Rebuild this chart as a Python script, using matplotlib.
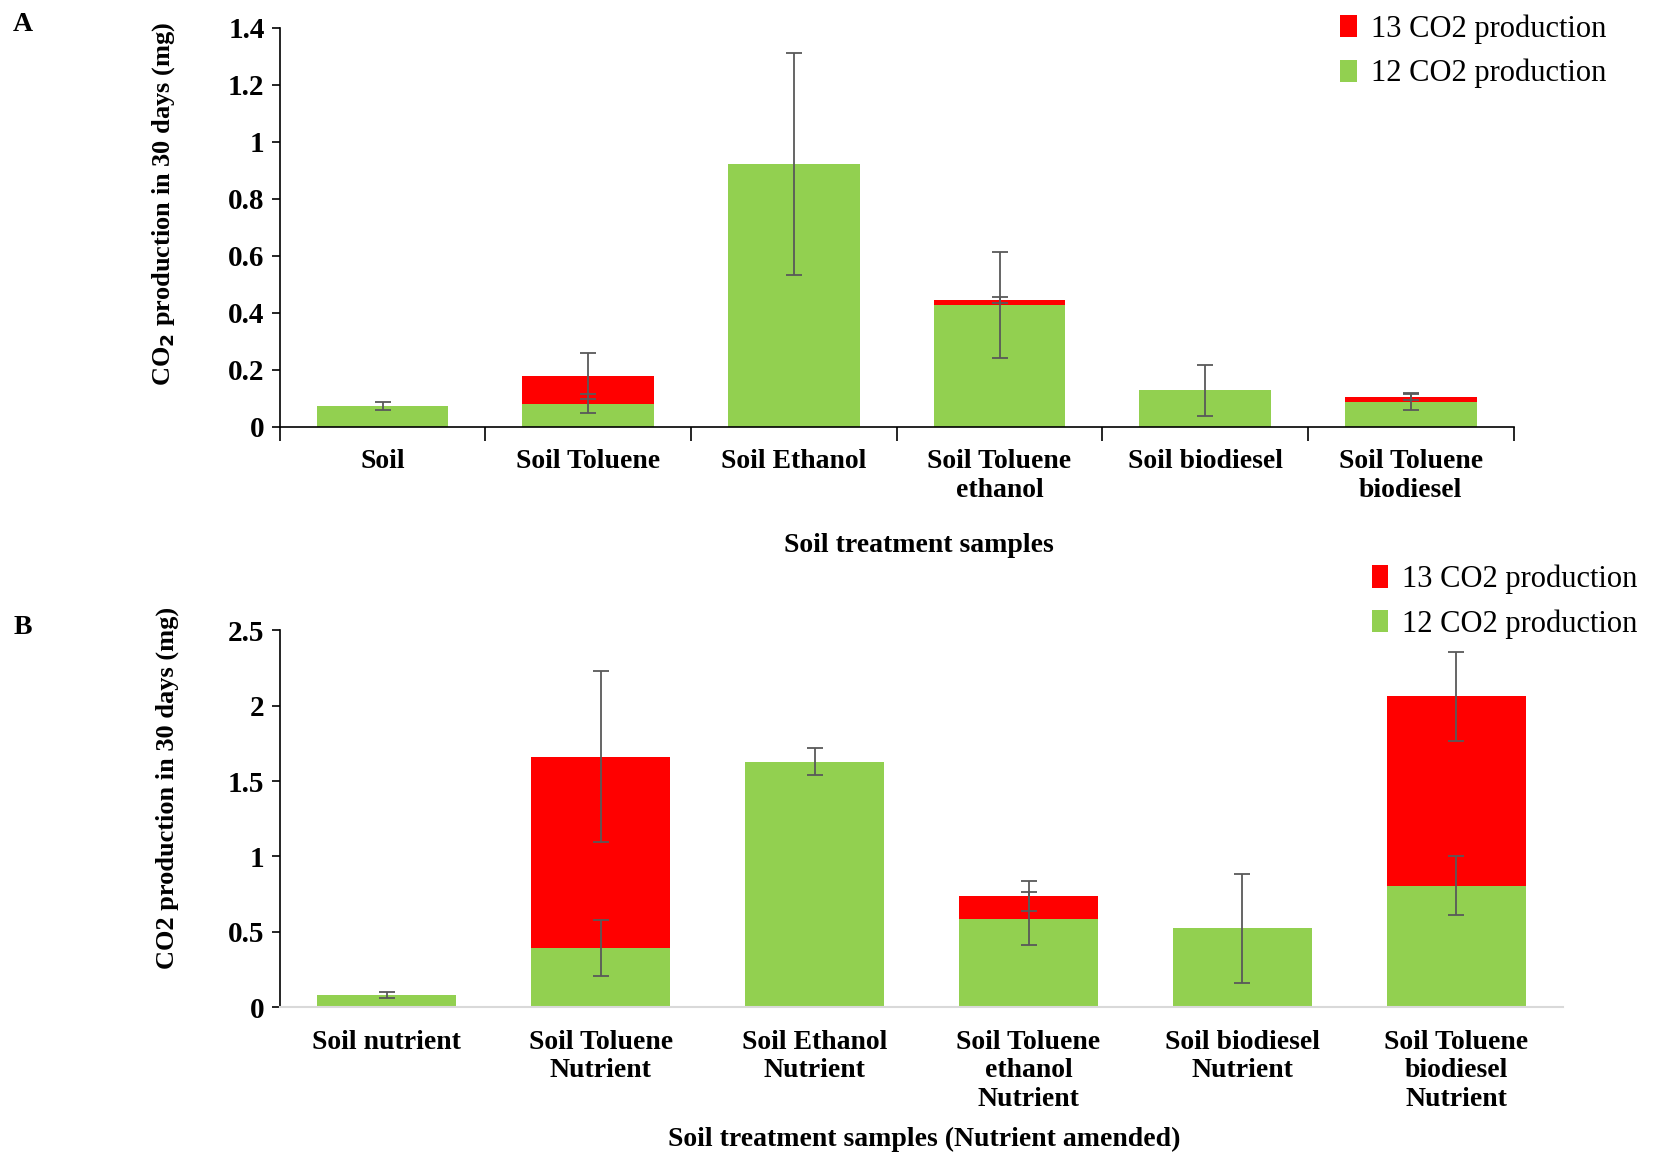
import numpy as np
import matplotlib
matplotlib.use("Agg")
import matplotlib.pyplot as plt
from matplotlib.ticker import FuncFormatter

plt.rcParams['font.family'] = ['Liberation Serif', 'DejaVu Serif']

# panel A - soil treatments
cats_a = ["Soil", "Soil Toluene", "Soil Ethanol", "Soil Toluene\nethanol",
          "Soil biodiesel", "Soil Toluene\nbiodiesel"]
green_a = [0.074, 0.082, 0.922, 0.428, 0.128, 0.088]
red_a = [0.0, 0.096, 0.0, 0.018, 0.0, 0.017]
green_err_a = [0.014, 0.032, 0.388, 0.185, 0.090, 0.030]
red_err_a = [0.0, 0.080, 0.0, 0.010, 0.0, 0.010]

# panel B - nutrient amended
cats_b = ["Soil nutrient", "Soil Toluene\nNutrient", "Soil Ethanol\nNutrient",
          "Soil Toluene\nethanol\nNutrient", "Soil biodiesel\nNutrient",
          "Soil Toluene\nbiodiesel\nNutrient"]
green_b = [0.084, 0.393, 1.628, 0.588, 0.525, 0.805]
red_b = [0.0, 1.268, 0.0, 0.151, 0.0, 1.256]
green_err_b = [0.020, 0.185, 0.090, 0.177, 0.360, 0.195]
red_err_b = [0.0, 0.565, 0.0, 0.097, 0.0, 0.296]

GREEN = '#92D050'
RED = '#FF0000'
ERR = '#595959'

fig = plt.figure(figsize=(16.56, 11.54), dpi=100)
axA = fig.add_axes([0.169, 0.630, 0.745, 0.346])
axB = fig.add_axes([0.169, 0.127, 0.775, 0.327])


def draw(ax, cats, green, red, gerr, rerr, width):
    x = np.arange(len(cats))
    g = np.array(green)
    r = np.array(red)
    b1 = ax.bar(x, g, width, color=GREEN, label='12 CO2 production', zorder=2)
    b2 = ax.bar(x, r, width, bottom=g, color=RED, label='13 CO2 production', zorder=2)
    ax.errorbar(x, g, yerr=gerr, fmt='none', ecolor=ERR, elinewidth=1.3,
                capsize=6, capthick=1.3, zorder=3)
    m = r > 0
    ax.errorbar(x[m], (g + r)[m], yerr=np.array(rerr)[m], fmt='none', ecolor=ERR,
                elinewidth=1.3, capsize=6, capthick=1.3, zorder=3)
    ax.set_xlim(-0.5, len(cats) - 0.5)
    ax.spines['top'].set_visible(False)
    ax.spines['right'].set_visible(False)
    ax.yaxis.set_major_formatter(FuncFormatter(lambda v, p: f"{v:g}"))
    ax.tick_params(axis='y', labelsize=21, length=6, width=1.2, pad=5)
    return b1, b2


b1, b2 = draw(axA, cats_a, green_a, red_a, green_err_a, red_err_a, 0.64)
axA.set_ylim(0, 1.4)
axA.set_yticks(np.arange(0, 1.41, 0.2))
axA.set_xticks(np.arange(-0.5, 6, 1))
axA.set_xticklabels([])
axA.tick_params(axis='x', which='major', length=10, width=1.2)
axA.set_xticks(np.arange(6), minor=True)
axA.set_xticklabels(cats_a, minor=True, fontsize=20, fontweight='bold', linespacing=1.2)
axA.tick_params(axis='x', which='minor', length=0, pad=16)
for s in ['left', 'bottom']:
    axA.spines[s].set_linewidth(1.2)
for lab in axA.get_yticklabels():
    lab.set_fontweight('bold')

c1, c2 = draw(axB, cats_b, green_b, red_b, green_err_b, red_err_b, 0.65)
axB.set_ylim(0, 2.5)
axB.set_yticks(np.arange(0, 2.51, 0.5))
axB.set_xticks(np.arange(6))
axB.set_xticklabels(cats_b, fontsize=20, fontweight='bold', linespacing=1.2)
axB.tick_params(axis='x', length=0, pad=16)
axB.spines['bottom'].set_color('#d9d9d9')
axB.spines['bottom'].set_linewidth(1.5)
axB.spines['left'].set_linewidth(1.2)
for lab in axB.get_yticklabels():
    lab.set_fontweight('bold')

leg_kw = dict(frameon=False, fontsize=22, handlelength=0.55, handleheight=0.75,
              handletextpad=0.45, labelspacing=0.5, borderpad=0, loc='upper left',
              bbox_transform=fig.transFigure)
axA.legend([b2, b1], ['13 CO2 production', '12 CO2 production'],
           bbox_to_anchor=(0.800, 1.001), **leg_kw)
axB.legend([c2, c1], ['13 CO2 production', '12 CO2 production'],
           bbox_to_anchor=(0.819, 0.524), **leg_kw)

fig.text(0.099, 0.823, 'CO$_\\mathbf{2}$ production in 30 days (mg)', rotation=90,
         ha='center', va='center', fontsize=19, fontweight='bold')
fig.text(0.101, 0.317, 'CO2 production in 30 days (mg)', rotation=90,
         ha='center', va='center', fontsize=19, fontweight='bold')
fig.text(0.555, 0.527, 'Soil treatment samples', ha='center', va='center',
         fontsize=20, fontweight='bold')
fig.text(0.558, 0.013, 'Soil treatment samples (Nutrient amended)', ha='center',
         va='center', fontsize=20, fontweight='bold')
fig.text(0.008, 0.979, 'A', fontsize=20, fontweight='bold', va='center')
fig.text(0.008, 0.456, 'B', fontsize=20, fontweight='bold', va='center')

fig.savefig('out.png', dpi=100)
